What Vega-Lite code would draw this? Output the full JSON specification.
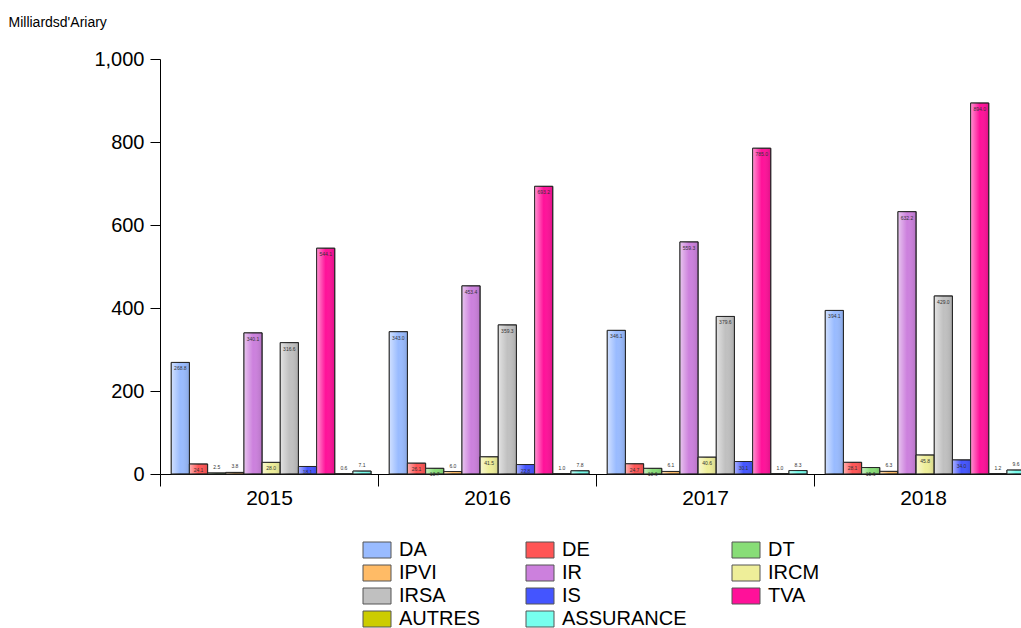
{
  "$schema": "https://vega.github.io/schema/vega-lite/v6.json",
  "autosize": {"type": "none"},
  "width": 872,
  "height": 415,
  "padding": {"left": 160, "top": 59, "right": 0, "bottom": 154},
  "background": "white",
  "config": {
    "view": {"stroke": null},
    "font": "Liberation Sans",
    "axis": {"grid": false, "domainColor": "#000", "tickColor": "#000", "labelColor": "#000", "labelFont": "Liberation Sans"}
  },
  "data": {
    "values": [
      {"year": "2015", "type": "DA", "value": 268.8},
      {"year": "2015", "type": "DE", "value": 24.1},
      {"year": "2015", "type": "DT", "value": 2.5},
      {"year": "2015", "type": "IPVI", "value": 3.8},
      {"year": "2015", "type": "IR", "value": 340.1},
      {"year": "2015", "type": "IRCM", "value": 28.0},
      {"year": "2015", "type": "IRSA", "value": 316.6},
      {"year": "2015", "type": "IS", "value": 18.1},
      {"year": "2015", "type": "TVA", "value": 544.1},
      {"year": "2015", "type": "AUTRES", "value": 0.6},
      {"year": "2015", "type": "ASSURANCE", "value": 7.1},
      {"year": "2016", "type": "DA", "value": 343.0},
      {"year": "2016", "type": "DE", "value": 26.1},
      {"year": "2016", "type": "DT", "value": 13.7},
      {"year": "2016", "type": "IPVI", "value": 6.0},
      {"year": "2016", "type": "IR", "value": 453.4},
      {"year": "2016", "type": "IRCM", "value": 41.5},
      {"year": "2016", "type": "IRSA", "value": 359.3},
      {"year": "2016", "type": "IS", "value": 22.8},
      {"year": "2016", "type": "TVA", "value": 693.2},
      {"year": "2016", "type": "AUTRES", "value": 1.0},
      {"year": "2016", "type": "ASSURANCE", "value": 7.8},
      {"year": "2017", "type": "DA", "value": 346.1},
      {"year": "2017", "type": "DE", "value": 24.7},
      {"year": "2017", "type": "DT", "value": 13.6},
      {"year": "2017", "type": "IPVI", "value": 6.1},
      {"year": "2017", "type": "IR", "value": 559.3},
      {"year": "2017", "type": "IRCM", "value": 40.6},
      {"year": "2017", "type": "IRSA", "value": 379.6},
      {"year": "2017", "type": "IS", "value": 30.1},
      {"year": "2017", "type": "TVA", "value": 785.0},
      {"year": "2017", "type": "AUTRES", "value": 1.0},
      {"year": "2017", "type": "ASSURANCE", "value": 8.3},
      {"year": "2018", "type": "DA", "value": 394.1},
      {"year": "2018", "type": "DE", "value": 28.1},
      {"year": "2018", "type": "DT", "value": 15.6},
      {"year": "2018", "type": "IPVI", "value": 6.3},
      {"year": "2018", "type": "IR", "value": 632.2},
      {"year": "2018", "type": "IRCM", "value": 45.8},
      {"year": "2018", "type": "IRSA", "value": 429.0},
      {"year": "2018", "type": "IS", "value": 34.0},
      {"year": "2018", "type": "TVA", "value": 894.0},
      {"year": "2018", "type": "AUTRES", "value": 1.2},
      {"year": "2018", "type": "ASSURANCE", "value": 9.6}
    ]
  },
  "encoding": {
    "x": {
      "field": "year", "type": "nominal",
      "scale": {"paddingInner": 0, "paddingOuter": 0},
      "axis": {"title": null, "labelAngle": 0, "labelFontSize": 21, "tickBand": "extent", "tickSize": 12, "labelPadding": 1, "domainWidth": 1}
    },
    "xOffset": {
      "field": "type", "type": "nominal",
      "sort": ["DA", "DE", "DT", "IPVI", "IR", "IRCM", "IRSA", "IS", "TVA", "AUTRES", "ASSURANCE"],
      "scale": {"paddingInner": 0, "paddingOuter": 0.5, "align": 0.62}
    },
    "y": {
      "field": "value", "type": "quantitative",
      "scale": {"domain": [0, 1000], "nice": false},
      "axis": {
        "values": [0, 200, 400, 600, 800, 1000], "format": ",d",
        "labelFontSize": 20, "tickSize": 10, "labelPadding": 6,
        "title": "Milliardsd'Ariary", "titleAngle": 0, "titleX": -152, "titleY": -37,
        "titleAlign": "left", "titleBaseline": "middle", "titleFontSize": 14, "titleFontWeight": "normal", "titleFont": "Liberation Sans"
      }
    }
  },
  "layer": [
    {
      "mark": {"type": "bar", "stroke": "#222", "strokeWidth": 1, "strokeOpacity": 0.85},
      "encoding": {
        "color": {
          "field": "type", "type": "nominal",
          "scale": {
            "domain": ["DA", "DE", "DT", "IPVI", "IR", "IRCM", "IRSA", "IS", "TVA", "AUTRES", "ASSURANCE"],
            "range": ["#99bbff", "#ff5555", "#88dd77", "#ffbb66", "#cc80dd", "#eeee99", "#c0c0c0", "#4455ff", "#ff1199", "#cccc00", "#77ffee"]
          },
          "legend": {
            "title": null, "orient": "none", "legendX": 207, "legendY": 481, "columns": 3, "direction": "horizontal",
            "columnPadding": 43, "rowPadding": 3,
            "symbolType": "M-1.75,-1H1.75V1H-1.75Z", "symbolSize": 256,
            "symbolStrokeColor": "#555", "symbolStrokeWidth": 1, "symbolOpacity": 1,
            "labelFontSize": 20, "labelFont": "Liberation Sans", "labelColor": "#000", "labelOffset": 12,
            "labelLimit": 300
          }
        }
      }
    },
    {
      "mark": {
        "type": "bar",
        "fill": {"gradient": "linear", "x1": 0, "x2": 1, "y1": 0, "y2": 0,
          "stops": [
            {"offset": 0, "color": "rgba(255,255,255,0.55)"},
            {"offset": 0.5, "color": "rgba(255,255,255,0)"},
            {"offset": 1, "color": "rgba(0,0,0,0.12)"}
          ]},
        "stroke": "#222", "strokeWidth": 1, "strokeOpacity": 0.85
      },
      "encoding": {}
    },
    {
      "transform": [{"filter": "datum.value >= 10"}],
      "mark": {"type": "text", "baseline": "top", "dy": 4, "fontSize": 5, "color": "#333"},
      "encoding": {"text": {"field": "value", "type": "quantitative", "format": ".1f"}}
    },
    {
      "transform": [{"filter": "datum.value < 10"}],
      "mark": {"type": "text", "baseline": "bottom", "dy": -3, "fontSize": 5, "color": "#333"},
      "encoding": {"text": {"field": "value", "type": "quantitative", "format": ".1f"}}
    }
  ]
}
